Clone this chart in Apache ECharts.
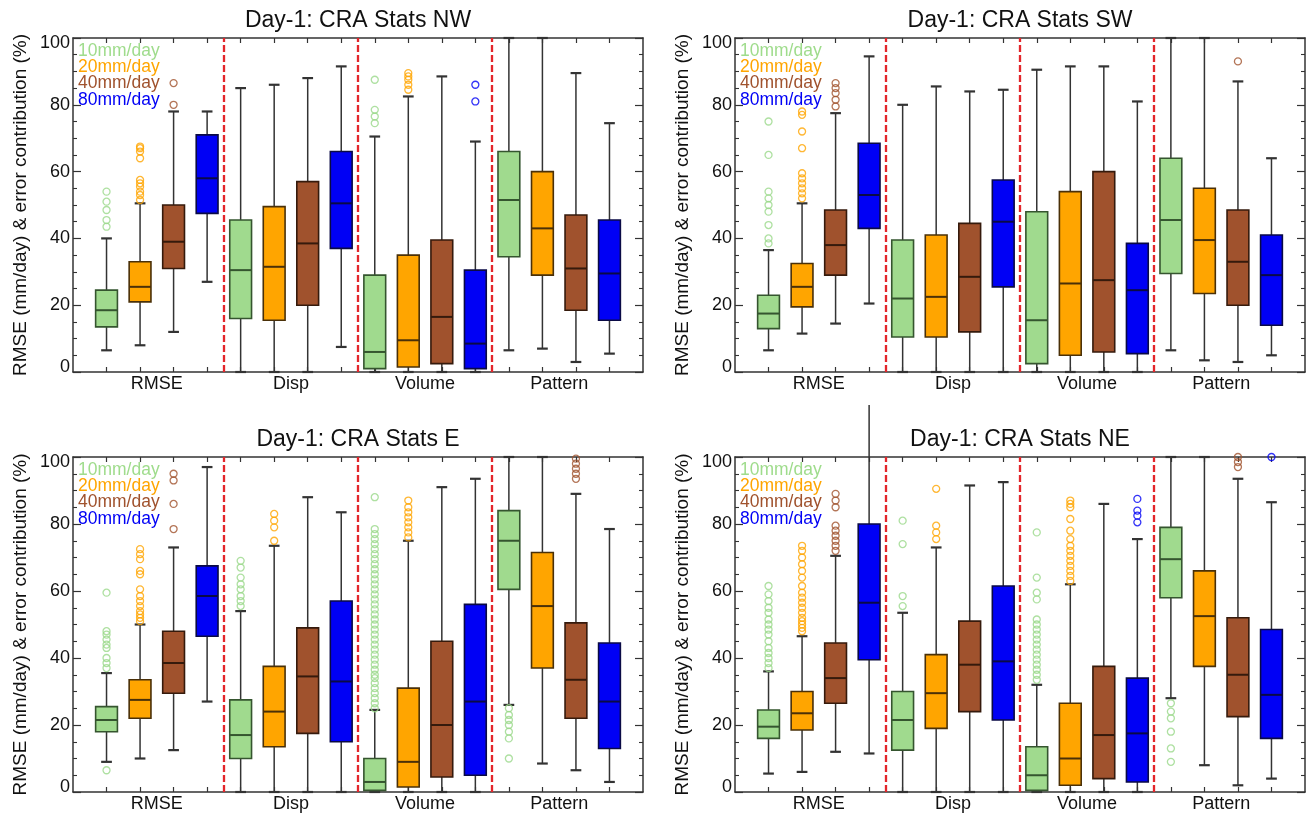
<!DOCTYPE html>
<html>
<head>
<meta charset="utf-8">
<script src="https://cdn.jsdelivr.net/npm/echarts@6/dist/echarts.min.js"></script>
<style>
html,body{margin:0;padding:0;background:#fff;}
#chart{width:1314px;height:816px;}
</style>
</head>
<body>
<div id="chart"></div>
<script>
// ---------------- DATA ----------------
const categories = ['RMSE', 'Disp', 'Volume', 'Pattern'];
const thresholds = ['10mm/day', '20mm/day', '40mm/day', '80mm/day'];
const yTickValues = [0, 20, 40, 60, 80, 100];
const panelTitles = ['Day-1: CRA Stats NW', 'Day-1: CRA Stats SW', 'Day-1: CRA Stats E', 'Day-1: CRA Stats NE'];
const yAxisTitle = 'RMSE (mm/day) & error contribution (%)';

// each box: [lower whisker, Q1, median, Q3, upper whisker]
// order: RMSE(10,20,40,80), Disp(10,20,40,80), Volume(...), Pattern(...)
const nwBoxes = [
  [6.5, 13.5, 18.5, 24.5, 40], [8, 21, 25.5, 33, 50.5], [12, 31, 39, 50, 78], [27, 47.5, 58, 71, 78],
  [0, 16, 30.5, 45.5, 85], [0, 15.5, 31.5, 49.5, 86], [0, 20, 38.5, 57, 88], [7.5, 37, 50.5, 66, 91.5],
  [0, 1, 6, 29, 70.5], [0, 1.5, 9.5, 35, 82.5], [0, 2.5, 16.5, 39.5, 88.5], [0, 1, 8.5, 30.5, 69],
  [6.5, 34.5, 51.5, 66, 100], [7, 29, 43, 60, 100], [3, 18.5, 31, 47, 89.5], [5.5, 15.5, 29.5, 45.5, 74.5]
];
const nwOutliers = [
  [43.5, 45.5, 48.5, 51, 54], [51.5, 53, 54, 55.5, 56.5, 57.5, 64, 66, 67, 67.5], [80, 86.5], [],
  [], [], [], [],
  [74.5, 76.5, 78.5, 87.5], [84.5, 86, 87.5, 88.5, 89.5], [], [81, 86],
  [], [], [], []
];

const swBoxes = [
  [6.5, 13, 17.5, 23, 36.5], [11.5, 19.5, 25.5, 32.5, 50.5], [14.5, 29, 38, 48.5, 77.5], [20.5, 43, 53, 68.5, 94.5],
  [0, 10.5, 22, 39.5, 80], [0, 10.5, 22.5, 41, 85.5], [0, 12, 28.5, 44.5, 84], [0, 25.5, 45, 57.5, 84.5],
  [0, 2.5, 15.5, 48, 90.5], [0, 5, 26.5, 54, 91.5], [0, 6, 27.5, 60, 91.5], [0, 5.5, 24.5, 38.5, 81],
  [6.5, 29.5, 45.5, 64, 100], [3.5, 23.5, 39.5, 55, 100], [3, 20, 33, 48.5, 87], [5, 14, 29, 41, 64]
];
const swOutliers = [
  [38.5, 40, 44, 48, 50, 52, 54, 65, 75], [52, 53.5, 55, 56.5, 58, 59.5, 67, 72, 77, 78], [79.5, 81.5, 83.5, 85, 86.5], [],
  [], [], [], [],
  [], [], [], [],
  [], [], [93], []
];

const eBoxes = [
  [9, 18, 21.5, 25.5, 35.5], [10, 22, 27.5, 33.5, 50], [12.5, 29.5, 38.5, 48, 73], [27, 46.5, 58.5, 67.5, 97],
  [0, 10, 17, 27.5, 54], [0, 13.5, 24, 37.5, 73.5], [0, 17.5, 34.5, 49, 88], [0, 15, 33, 57, 83.5],
  [0, 0.5, 3, 10, 24.5], [0, 1.5, 9, 31, 75], [0, 4.5, 20, 45, 91], [0, 5, 27, 56, 93.5],
  [26, 60.5, 75, 84, 100], [8.5, 37, 55.5, 71.5, 100], [6.5, 22, 33.5, 50.5, 89], [3, 13, 27, 44.5, 78.5]
];
const eOutliers = [
  [6.5, 37, 38.5, 40, 43, 44, 45.5, 47, 48, 59.5],
  [51, 52, 53, 54, 55.5, 57, 58.5, 60.5, 65, 66, 69.5, 71, 72.5],
  [78.5, 86, 93, 95], [],
  [55.5, 57, 58.5, 60.5, 62, 64, 67, 69], [75, 79, 81, 83], [], [],
  [25, 26.5, 28, 29.5, 31, 32.5, 34, 35, 36.5, 38, 39.5, 41, 42.5, 44, 45.5, 47, 48.5, 50, 51.5, 53,
   54.5, 56, 57.5, 59, 60.5, 62, 63.5, 65, 66.5, 68, 69.5, 71, 72.5, 74, 75.5, 77, 78.5, 88],
  [76, 77.5, 79, 80.5, 82, 83.5, 85, 87], [], [],
  [10, 16, 18, 20, 21.5, 23, 25], [], [93.5, 95, 96.5, 98, 99.5], []
];

const neBoxes = [
  [5.5, 16, 19.5, 24.5, 36], [6, 18.5, 23.5, 30, 46.5], [12, 26.5, 34, 44.5, 70.5], [11.5, 39.5, 56.5, 80, 115.5],
  [0, 12.5, 21.5, 30, 53.5], [0, 19, 29.5, 41, 73], [0, 24, 38, 51, 91.5], [0, 21.5, 39, 61.5, 92.5],
  [0, 0.5, 5, 13.5, 32], [0, 2, 10, 26.5, 62], [0, 4, 17, 37.5, 86], [0, 3, 17.5, 34, 75.5],
  [28, 58, 69.5, 79, 100], [8, 37.5, 52.5, 66, 100], [2, 22.5, 35, 52, 93.5], [4, 16, 29, 48.5, 86.5]
];
const neOutliers = [
  [37, 38.5, 40, 41.5, 43, 45, 47, 48.5, 50, 51.5, 53.5, 55, 57, 59, 61.5],
  [48, 49, 50, 51, 52, 53.5, 55, 56.5, 58, 59.5, 61.5, 64, 66, 68, 70, 72, 73.5],
  [72, 73.5, 75, 76.5, 78, 79.5, 85, 87, 89], [],
  [55.5, 58.5, 74, 81], [75.5, 77.5, 79.5, 90.5], [], [],
  [33.5, 35, 36.5, 38, 39.5, 41, 42.5, 44, 45.5, 47, 48.5, 50, 51.5, 57.5, 59.5, 64, 77.5],
  [63, 64.5, 66, 67.5, 69, 70.5, 72, 73.5, 75.5, 78, 81.5, 85, 86, 87], [], [80.5, 82.5, 84, 87.5],
  [9, 13, 18, 22, 24, 26.5], [], [97, 98.5, 100], [100]
];

// ---------------- STYLE / LAYOUT ----------------
const FONT = '"Liberation Sans", Arial, Helvetica, sans-serif';
const fillColors = ['#a0da8e', '#ffa500', '#a0522d', '#0000f5'];
const legendColors = ['#9fdc8c', '#ffa500', '#a0522d', '#0000f5'];
const outlierColors = ['#9ad889', '#ffa500', '#a0522d', '#0000f5'];
const edgeColors = ['#35552f', '#4a3008', '#351a0c', '#0a0a45'];
const WHISKER = '#333333';
const FRAME = '#333';
const BOX_W = 0.65;
const CAP_W = 0.32;

const panels = [
  { title: panelTitles[0], boxes: nwBoxes, outliers: nwOutliers, left: 73, top: 38, height: 334 },
  { title: panelTitles[1], boxes: swBoxes, outliers: swOutliers, left: 735, top: 38, height: 334 },
  { title: panelTitles[2], boxes: eBoxes, outliers: eOutliers, left: 73, top: 457, height: 335 },
  { title: panelTitles[3], boxes: neBoxes, outliers: neOutliers, left: 735, top: 457, height: 335 }
];
const GRID_W = 570;

const nT = thresholds.length;
const nBoxes = categories.length * nT;
const boxPositions = [];
for (let i = 0; i < nBoxes; i++) boxPositions.push(i + 1);
const groupCenters = categories.map((c, g) => g * nT + (nT + 1) / 2);
const separators = [];
for (let g = 1; g < categories.length; g++) separators.push(g * nT + 0.5);

function renderBox(params, api) {
  const x = api.value(0);
  const t = api.value(6);
  const low = api.coord([x, api.value(1)]);
  const q1 = api.coord([x, api.value(2)]);
  const med = api.coord([x, api.value(3)]);
  const q3 = api.coord([x, api.value(4)]);
  const highVal = api.value(5);
  const high = api.coord([x, highVal]);
  const cx = low[0];
  const bw = api.size([BOX_W, 0])[0];
  const cw = api.size([CAP_W, 0])[0];
  const wStyle = { stroke: WHISKER, lineWidth: 1.5 };
  const children = [
    { type: 'line', shape: { x1: cx, y1: low[1], x2: cx, y2: q1[1] }, style: wStyle },
    { type: 'line', shape: { x1: cx, y1: q3[1], x2: cx, y2: high[1] }, style: wStyle },
    { type: 'line', shape: { x1: cx - cw / 2, y1: low[1], x2: cx + cw / 2, y2: low[1] }, style: { stroke: WHISKER, lineWidth: 2.2 } }
  ];
  if (highVal <= 100) {
    children.push({ type: 'line', shape: { x1: cx - cw / 2, y1: high[1], x2: cx + cw / 2, y2: high[1] }, style: { stroke: WHISKER, lineWidth: 2.2 } });
  }
  children.push({
    type: 'rect',
    shape: { x: cx - bw / 2, y: q3[1], width: bw, height: q1[1] - q3[1] },
    style: { fill: fillColors[t], stroke: edgeColors[t], lineWidth: 1.6 }
  });
  children.push({
    type: 'line',
    shape: { x1: cx - bw / 2, y1: med[1], x2: cx + bw / 2, y2: med[1] },
    style: { stroke: edgeColors[t], lineWidth: 2 }
  });
  return { type: 'group', children: children };
}

const option = {
  backgroundColor: '#ffffff',
  animation: false,
  grid: [], xAxis: [], yAxis: [], series: [], graphic: []
};

panels.forEach((p, pi) => {
  option.grid.push({ left: p.left, top: p.top, width: GRID_W, height: p.height });
  const lineStyle = { color: FRAME, width: 1.5 };
  const xBase = {
    gridIndex: pi, type: 'value', min: 0, max: nBoxes + 1,
    axisLine: { show: true, onZero: false, lineStyle: lineStyle },
    axisTick: { show: true, inside: true, length: 5, customValues: boxPositions, lineStyle: { color: FRAME, width: 1.2 } },
    splitLine: { show: false }
  };
  option.xAxis.push(Object.assign({}, xBase, {
    position: 'bottom',
    axisLabel: {
      show: true, customValues: groupCenters, margin: 3,
      fontFamily: FONT, fontSize: 18, color: '#111',
      formatter: function (v) { return categories[Math.round((v - (nT + 1) / 2) / nT)]; }
    }
  }));
  option.xAxis.push(Object.assign({}, xBase, { position: 'top', axisLabel: { show: false } }));

  const yBase = {
    gridIndex: pi, type: 'value', min: yTickValues[0], max: yTickValues[yTickValues.length - 1],
    interval: yTickValues[1] - yTickValues[0],
    axisLine: { show: true, onZero: false, lineStyle: lineStyle },
    axisTick: { show: true, inside: true, length: 8, lineStyle: { color: FRAME, width: 1.2 } },
    minorTick: { show: true, splitNumber: 4, length: 4, lineStyle: { color: FRAME, width: 1.1 } },
    splitLine: { show: false }
  };
  option.yAxis.push(Object.assign({}, yBase, {
    position: 'left',
    axisLabel: {
      show: true, margin: 3, fontFamily: FONT, fontSize: 18, color: '#111', lineHeight: 10,
      verticalAlignMinLabel: 'bottom', verticalAlignMaxLabel: 'top'
    },
    name: yAxisTitle, nameLocation: 'middle', nameGap: 43, nameRotate: 90,
    nameTextStyle: { fontFamily: FONT, fontSize: 19, color: '#111' }
  }));
  option.yAxis.push(Object.assign({}, yBase, { position: 'right', axisLabel: { show: false } }));

  const boxData = [];
  const outData = [];
  p.boxes.forEach((b, i) => {
    const t = i % nT;
    const pos = boxPositions[i];
    boxData.push([pos, b[0], b[1], b[2], b[3], b[4], t]);
    p.outliers[i].forEach(v => {
      outData.push({ value: [pos, v], itemStyle: { borderColor: outlierColors[t] } });
    });
  });

  option.series.push({
    type: 'custom', xAxisIndex: pi * 2, yAxisIndex: pi * 2,
    renderItem: renderBox, data: boxData, clip: false,
    encode: { x: 0, y: [1, 2, 3, 4, 5] }, silent: true
  });
  option.series.push({
    type: 'scatter', xAxisIndex: pi * 2, yAxisIndex: pi * 2,
    symbol: 'circle', symbolSize: 7, clip: true,
    itemStyle: { color: 'rgba(0,0,0,0)', borderWidth: 1.3 },
    data: outData, silent: true,
    markLine: {
      silent: true, symbol: ['none', 'none'], label: { show: false },
      lineStyle: { color: '#e3262b', type: [7, 3], width: 2.3 },
      data: separators.map(s => ({ xAxis: s }))
    }
  });

  // title
  option.graphic.push({
    type: 'text', x: p.left + GRID_W / 2, y: p.top - 17,
    style: { text: p.title, fill: '#111', font: '23px ' + FONT, align: 'center', verticalAlign: 'middle' }
  });
  // legend texts
  thresholds.forEach((name, t) => {
    option.graphic.push({
      type: 'text', x: p.left + 5, y: p.top + 12.7 + t * 16.4, z: 50,
      style: { text: name, fill: legendColors[t], font: '17.5px ' + FONT, align: 'left', verticalAlign: 'middle' }
    });
  });
});

const chart = echarts.init(document.getElementById('chart'), null, { renderer: 'canvas' });
chart.setOption(option);
</script>
</body>
</html>
